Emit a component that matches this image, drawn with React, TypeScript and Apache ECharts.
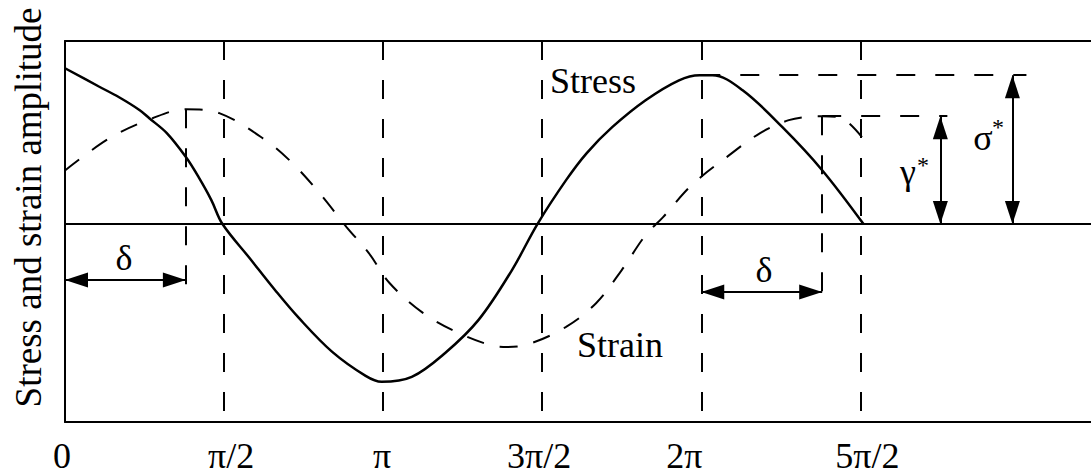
import React, { useEffect, useRef } from "react";
import * as echarts from "echarts";

// Phase axis is measured in units of π/2.
const phaseTicks = [0, 1, 2, 3, 4, 5];
const tickLabels = ["0", "π/2", "π", "3π/2", "2π", "5π/2"];

// Stress (solid) and strain (dashed) traces, [phase, amplitude].
const stressPoints: [number, number][] = [
  [0, 1.047], [0.21, 0.926], [0.34, 0.852], [0.47, 0.765], [0.53, 0.711],
  [0.64, 0.611], [0.76, 0.45], [0.84, 0.315], [0.92, 0.161], [0.99, 0],
  [1.16, -0.228], [1.32, -0.443], [1.47, -0.631], [1.68, -0.859], [1.89, -1.02],
  [1.99, -1.06], [2.18, -1.027], [2.39, -0.866], [2.6, -0.644], [2.81, -0.309],
  [2.97, 0.0], [3.15, 0.295], [3.28, 0.477], [3.44, 0.651], [3.65, 0.832],
  [3.86, 0.966], [3.99, 1.0], [4.07, 1.0], [4.26, 0.899], [4.51, 0.651],
  [4.76, 0.362], [5.02, 0],
];

const strainPoints: [number, number][] = [
  [0, 0.36], [0.28, 0.577], [0.55, 0.711], [0.76, 0.772], [0.97, 0.745],
  [1.26, 0.564], [1.43, 0.409], [1.6, 0.208], [1.77, -0.02], [1.91, -0.195],
  [2.04, -0.396], [2.25, -0.597], [2.46, -0.725], [2.67, -0.812], [2.78, -0.826],
  [2.92, -0.805], [3.15, -0.691], [3.34, -0.53], [3.5, -0.309], [3.65, -0.074],
  [3.76, 0.047], [3.94, 0.262], [4.16, 0.45], [4.37, 0.611], [4.55, 0.698],
  [4.68, 0.722], [4.76, 0.725], [4.85, 0.72], [4.92, 0.685], [5.01, 0.584],
];

// Annotation quantities
const stressAmplitude = 1.0; // σ*
const strainAmplitude = 0.725; // γ*
const firstStrainPeak = 0.772;
const phaseLag = 0.76; // δ
const lagArrowLevels = [-0.376, -0.456];
const lagGuideBottom = -0.51;
const stressGuideEnd = 6.044;
const strainGuideEnd = 5.547;
const strainArrowX = 5.503;
const stressArrowX = 5.956;

const FONT = "Liberation Serif";
const BLACK = "#000";

// per-label horizontal nudges for the tick text
const labelPads: number[][] = [
  [0, 6, 0, 0],
  [0, 0, 0, 14],
  [0, 2, 0, 0],
  [0, 6, 0, 0],
  [0, 34, 0, 0],
  [0, 0, 0, 14],
];

const arrowHead = (x: number, y: number) => ({
  coord: [x, y],
  symbol: "triangle",
  symbolSize: [15, 23],
  symbolOffset: [0, "50%"],
});

const plain = (x: number, y: number) => ({ coord: [x, y], symbol: "none" });

export default function App() {
  const ref = useRef<HTMLDivElement>(null);

  useEffect(() => {
    if (!ref.current) return;
    const chart = echarts.init(ref.current, undefined, { renderer: "svg" });

    const dashed = { color: BLACK, width: 2, type: [19, 20] as any };
    const solid = { color: BLACK, width: 2, type: "solid" as const };

    const rich: Record<string, any> = {};
    labelPads.forEach((p, i) => {
      rich["p" + i] = { fontSize: 36, fontFamily: FONT, color: BLACK, padding: p };
    });

    const markData: any[] = [
      // zero line
      [{ ...plain(0, 0), lineStyle: solid }, plain(6.45, 0)],
      // vertical guides at each labelled phase
      ...phaseTicks
        .filter((v) => v > 0)
        .map((v) => [{ ...plain(v, 1.23), lineStyle: dashed }, plain(v, -1.33)]),
      // lag guides under the strain peaks
      [{ ...plain(phaseLag, firstStrainPeak), lineStyle: dashed }, plain(phaseLag, lagGuideBottom)],
      [{ ...plain(4 + phaseLag, strainAmplitude), lineStyle: dashed }, plain(4 + phaseLag, lagGuideBottom)],
      // amplitude guides
      [{ ...plain(4, stressAmplitude), lineStyle: dashed }, plain(stressGuideEnd, stressAmplitude)],
      [{ ...plain(4 + phaseLag, strainAmplitude), lineStyle: dashed }, plain(strainGuideEnd, strainAmplitude)],
      // δ arrows
      [{ ...arrowHead(0, lagArrowLevels[0]), lineStyle: solid }, arrowHead(phaseLag, lagArrowLevels[0])],
      [{ ...arrowHead(4, lagArrowLevels[1]), lineStyle: solid }, arrowHead(4 + phaseLag, lagArrowLevels[1])],
      // γ* and σ* arrows
      [{ ...arrowHead(strainArrowX, 0), lineStyle: solid }, arrowHead(strainArrowX, strainAmplitude)],
      [{ ...arrowHead(stressArrowX, 0), lineStyle: solid }, arrowHead(stressArrowX, stressAmplitude)],
    ];

    const text = (t: string, x: number, y: number, size = 36) => ({
      type: "text",
      x,
      y,
      silent: true,
      style: {
        text: t,
        fontSize: size,
        fontFamily: FONT,
        fill: BLACK,
        align: "center",
        verticalAlign: "middle",
      },
    });

    chart.setOption({
      animation: false,
      backgroundColor: "#fff",
      grid: { left: 65, right: 0, top: 41, bottom: 50, outerBoundsMode: "none" },
      xAxis: [
        {
          type: "value",
          position: "bottom",
          min: 0,
          max: 6.45,
          axisLine: { onZero: false, lineStyle: { color: BLACK, width: 2 } },
          axisTick: { show: false },
          splitLine: { show: false },
          axisLabel: {
            customValues: phaseTicks,
            margin: 16,
            fontSize: 36,
            fontFamily: FONT,
            color: BLACK,
            formatter: (v: number) => {
              const i = phaseTicks.indexOf(Math.round(v));
              return i < 0 ? "" : `{p${i}|${tickLabels[i]}}`;
            },
            rich,
          },
        },
        {
          type: "value",
          position: "top",
          min: 0,
          max: 6.45,
          axisLine: { onZero: false, lineStyle: { color: BLACK, width: 2 } },
          axisTick: { show: false },
          axisLabel: { show: false },
          splitLine: { show: false },
        },
      ],
      yAxis: {
        type: "value",
        min: -1.33,
        max: 1.23,
        name: "Stress and strain amplitude",
        nameLocation: "middle",
        nameRotate: 90,
        nameGap: 18,
        nameTextStyle: {
          fontSize: 37,
          fontFamily: FONT,
          color: BLACK,
          padding: [0, 0, 0, 48],
        },
        axisLine: { onZero: false, lineStyle: { color: BLACK, width: 2 } },
        axisTick: { show: false },
        axisLabel: { show: false },
        splitLine: { show: false },
      },
      series: [
        {
          name: "guides",
          type: "line",
          data: [],
          z: 1,
          color: BLACK,
          markLine: {
            silent: true,
            symbol: ["none", "none"],
            label: { show: false },
            emphasis: { disabled: true },
            animation: false,
            itemStyle: { color: BLACK },
            data: markData,
          },
        },
        {
          name: "Stress",
          type: "line",
          data: stressPoints,
          z: 3,
          showSymbol: false,
          smooth: 0.35,
          color: BLACK,
          lineStyle: { color: BLACK, width: 2.5 },
        },
        {
          name: "Strain",
          type: "line",
          data: strainPoints,
          z: 3,
          showSymbol: false,
          smooth: 0.35,
          color: BLACK,
          lineStyle: { color: BLACK, width: 2, type: [18, 16] },
        },
      ],
      graphic: [
        text("Stress", 593, 81),
        text("Strain", 620, 345),
        text("δ", 124, 258),
        text("δ", 764, 270),
        text("γ", 908, 172),
        text("*", 923, 165, 24),
        text("σ", 983, 138),
        text("*", 998, 127, 24),
      ],
    });

    return () => chart.dispose();
  }, []);

  return (
    <div
      ref={ref}
      style={{ position: "fixed", left: 0, top: 0, width: 1091, height: 472 }}
    />
  );
}
